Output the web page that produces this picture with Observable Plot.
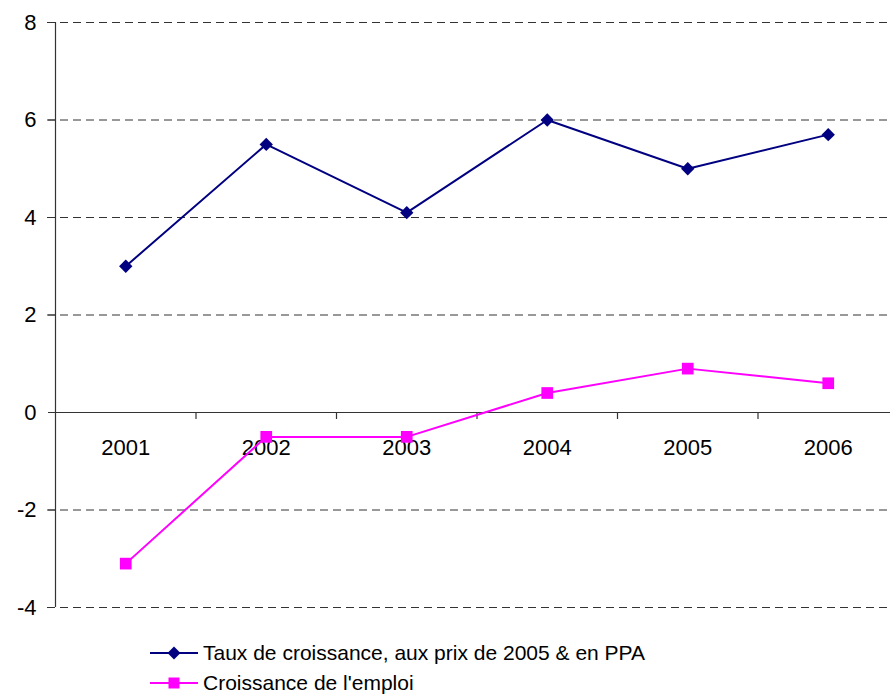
<!DOCTYPE html>
<html>
<head>
<meta charset="utf-8">
<script src="https://cdn.jsdelivr.net/npm/d3@7"></script>
<script src="https://cdn.jsdelivr.net/npm/@observablehq/plot@0.6"></script>
<style>
  html, body { margin: 0; padding: 0; background: #fff; }
  body { width: 890px; height: 695px; overflow: hidden; font-family: "Liberation Sans", Arial, sans-serif; }
  #legend { margin-top: 13px; padding-left: 150px; font-size: 21px; color: #000; }
  .row { height: 30px; display: flex; align-items: center; }
  .row svg { margin-right: 5px; }
</style>
</head>
<body>
<div id="chart"></div>
<div id="legend"></div>
<script>
const years = [2001, 2002, 2003, 2004, 2005, 2006];
const croissancePIB = [3.0, 5.5, 4.1, 6.0, 5.0, 5.7];
const croissanceEmploi = [-3.1, -0.5, -0.5, 0.4, 0.9, 0.6];
const seriesNames = ["Taux de croissance, aux prix de 2005 & en PPA", "Croissance de l'emploi"];
const seriesColors = ["#000080", "#FF00FF"];
const yTicks = [-4, -2, 0, 2, 4, 6, 8];
const gridTicks = [-4, -2, 2, 4, 6, 8];
const boundaries = [2001.5, 2002.5, 2003.5, 2004.5, 2005.5];

const pib = years.map((y, i) => ({year: y, value: croissancePIB[i]}));
const emploi = years.map((y, i) => ({year: y, value: croissanceEmploi[i]}));

const plot = Plot.plot({
  width: 890,
  height: 625,
  marginTop: 22,
  marginBottom: 18,
  marginLeft: 55,
  marginRight: 0,
  style: {fontFamily: "Liberation Sans, Arial, sans-serif", background: "white", overflow: "visible"},
  x: {domain: [2000.5, 2006.5], range: [55, 898], axis: null},
  y: {domain: [-4, 8], axis: null},
  marks: [
    Plot.ruleY(gridTicks, {stroke: "#333", strokeWidth: 1, strokeDasharray: "8,5", x1: 2000.5, x2: 2006.5, insetLeft: -8}),
    Plot.ruleY([0], {stroke: "#333", strokeWidth: 1.2}),
    Plot.ruleX([2000.5], {stroke: "#333", strokeWidth: 1.2, y1: -4, y2: 8}),
    Plot.ruleX(boundaries, {y1: 0, y2: 0, insetBottom: -7, stroke: "#333", strokeWidth: 1.2}),
    Plot.axisY({ticks: yTicks, tickSize: 7, tickPadding: 12, fontSize: 22, stroke: "#333", fill: "#000", label: null, tickFormat: d => String(d)}),
    Plot.text(years, {x: d => d, y: () => 0, dy: 35, text: d => String(d), fontSize: 22, fill: "#000"}),
    Plot.line(pib, {x: "year", y: "value", stroke: seriesColors[0], strokeWidth: 2}),
    Plot.dot(pib, {x: "year", y: "value", symbol: "diamond2", r: 6, fill: seriesColors[0], stroke: "none"}),
    Plot.line(emploi, {x: "year", y: "value", stroke: seriesColors[1], strokeWidth: 2}),
    Plot.dot(emploi, {x: "year", y: "value", symbol: "square", r: 6.6, fill: seriesColors[1], stroke: "none"})
  ]
});
document.getElementById("chart").appendChild(plot);

const legend = document.getElementById("legend");
const shapes = [
  c => `<polygon points="24,8.5 30.5,15 24,21.5 17.5,15" fill="${c}"/>`,
  c => `<rect x="18.5" y="9.5" width="11" height="11" fill="${c}"/>`
];
seriesNames.forEach((name, i) => {
  const row = document.createElement("div");
  row.className = "row";
  row.innerHTML = `<svg width="48" height="30"><line x1="0" y1="15" x2="48" y2="15" stroke="${seriesColors[i]}" stroke-width="2"/>${shapes[i](seriesColors[i])}</svg><span>${name}</span>`;
  legend.appendChild(row);
});
</script>
</body>
</html>
